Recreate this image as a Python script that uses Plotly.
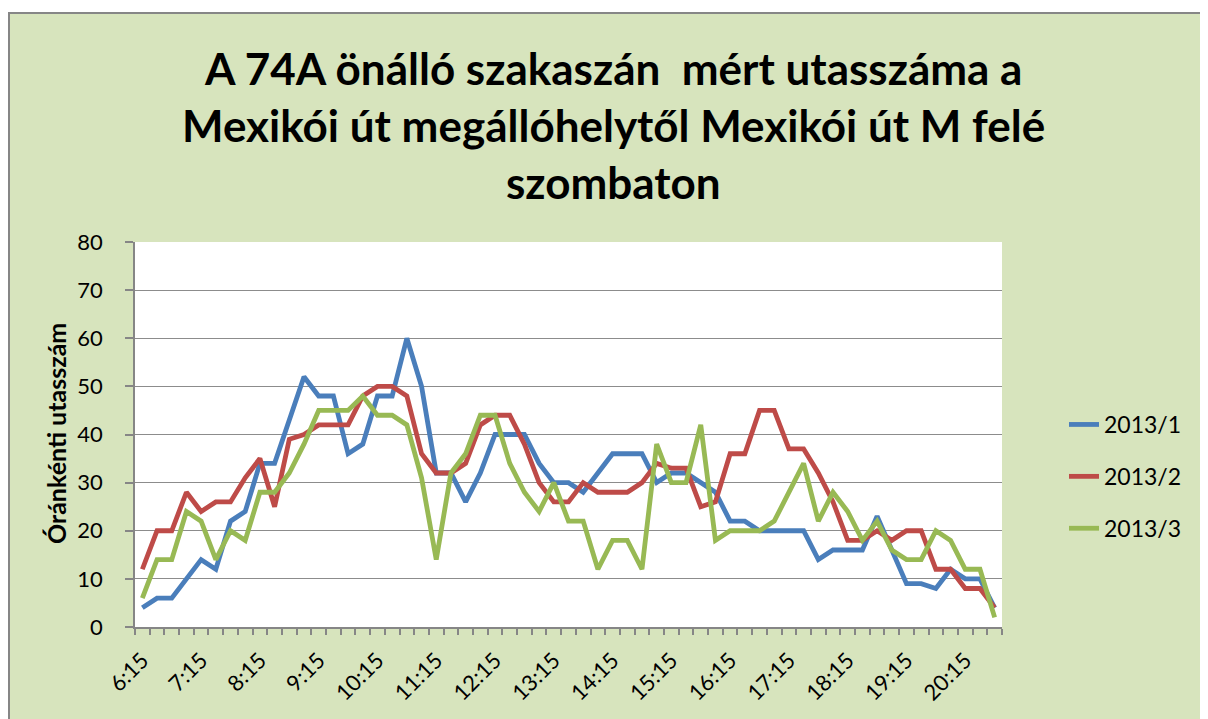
import plotly.graph_objects as go

times = ["6:15","6:30","6:45","7:00","7:15","7:30","7:45","8:00","8:15","8:30","8:45","9:00",
         "9:15","9:30","9:45","10:00","10:15","10:30","10:45","11:00","11:15","11:30","11:45","12:00",
         "12:15","12:30","12:45","13:00","13:15","13:30","13:45","14:00","14:15","14:30","14:45","15:00",
         "15:15","15:30","15:45","16:00","16:15","16:30","16:45","17:00","17:15","17:30","17:45","18:00",
         "18:15","18:30","18:45","19:00","19:15","19:30","19:45","20:00","20:15","20:30","20:45"]

s2013_1 = [4,6,6,10,14,12,22,24,34,34,43,52,48,48,36,38,48,48,60,50,
           32,32,26,32,40,40,40,34,30,30,28,32,36,36,36,30,32,32,30,28,
           22,22,20,20,20,20,14,16,16,16,23,16,9,9,8,12,10,10,4]
s2013_2 = [12,20,20,28,24,26,26,31,35,25,39,40,42,42,42,48,50,50,48,36,
           32,32,34,42,44,44,38,30,26,26,30,28,28,28,30,34,33,33,25,26,
           36,36,45,45,37,37,32,26,18,18,20,18,20,20,12,12,8,8,4]
s2013_3 = [6,14,14,24,22,14,20,18,28,28,32,38,45,45,45,48,44,44,42,31,
           14,32,36,44,44,34,28,24,30,22,22,12,18,18,12,38,30,30,42,18,
           20,20,20,22,28,34,22,28,24,18,22,16,14,14,20,18,12,12,2]

series_names = ["2013/1", "2013/2", "2013/3"]
colors = ["#4A7EBB", "#BE4B48", "#98B954"]
shown_labels = ["6:15","7:15","8:15","9:15","10:15","11:15","12:15","13:15",
                "14:15","15:15","16:15","17:15","18:15","19:15","20:15"]
title_lines = ["A 74A önálló szakaszán  mért utasszáma a",
               "Mexikói út megállóhelytől Mexikói út M felé",
               "szombaton"]
y_title = "Óránkénti utasszám"

FONT = "Lato"
OFF = 8  # page body margin
FIG_W, FIG_H = 1212, 711
L, T = 127, 234
W_PLOT, H_PLOT = 867, 385
R = FIG_W - L - W_PLOT
B = FIG_H - T - H_PLOT

def px_x(px):
    return (px - OFF - L) / W_PLOT

def px_y(py):
    return (T + H_PLOT - (py - OFF)) / H_PLOT

fig = go.Figure()
for name, vals, col in zip(series_names, [s2013_1, s2013_2, s2013_3], colors):
    fig.add_trace(go.Scatter(x=times, y=vals, mode="lines", name=name,
                             legendgroup=name,
                             line=dict(color=col, width=4.8)))

ticktext = [t if t in shown_labels else "" for t in times]

fig.update_layout(
    width=FIG_W, height=FIG_H,
    margin=dict(l=L, r=R, t=T, b=B, autoexpand=False),
    paper_bgcolor="#D7E4BD",
    plot_bgcolor="white",
    font=dict(family=FONT, color="black"),
    showlegend=True,
    legend=dict(x=px_x(1064), y=px_y(403), xanchor="left", yanchor="top",
                font=dict(size=23, family=FONT), bgcolor="rgba(0,0,0,0)",
                tracegroupgap=19),
    xaxis=dict(type="category", tickmode="array", tickvals=times, ticktext=ticktext,
               tickson="boundaries", ticks="outside", ticklen=6, tickcolor="#868686",
               tickwidth=1.5, showline=True, linecolor="#868686", linewidth=1.5,
               showgrid=False, tickangle=-45, tickfont=dict(size=22, family=FONT),
               ticklabelstandoff=10, range=[-0.5, 58.5]),
    yaxis=dict(range=[0, 80], dtick=10, ticks="outside", ticklen=8, tickcolor="#868686",
               tickwidth=1.5, showline=True, linecolor="#868686", linewidth=1.5,
               showgrid=True, gridcolor="#8C8C8C", gridwidth=1.2,
               tickfont=dict(size=22, family=FONT), ticklabelstandoff=18,
               zeroline=False),
)

# white strip above/left of the chart area, and the chart area's gray border
fig.add_shape(type="rect", xref="paper", yref="paper",
              x0=px_x(0), x1=px_x(1300), y0=px_y(12), y1=px_y(-10),
              fillcolor="white", line=dict(width=0), layer="below")
fig.add_shape(type="rect", xref="paper", yref="paper",
              x0=px_x(-10), x1=px_x(8), y0=px_y(740), y1=px_y(-10),
              fillcolor="white", line=dict(width=0), layer="below")
fig.add_shape(type="rect", xref="paper", yref="paper",
              x0=px_x(9), x1=px_x(1240), y0=px_y(740), y1=px_y(13),
              fillcolor="rgba(0,0,0,0)", line=dict(color="#868686", width=2), layer="below")

for line, py in zip(title_lines, [68, 125, 182]):
    fig.add_annotation(text="<b>" + line + "</b>", xref="paper", yref="paper",
                       x=px_x(613), y=px_y(py), xanchor="center", yanchor="middle",
                       showarrow=False, font=dict(size=44, family=FONT, color="black"))

fig.add_annotation(text="<b>" + y_title + "</b>", xref="paper", yref="paper",
                   x=px_x(56), y=px_y(434), xanchor="center", yanchor="middle",
                   textangle=-90, showarrow=False,
                   font=dict(size=25, family=FONT, color="black"))

fig.write_html("out.html")
